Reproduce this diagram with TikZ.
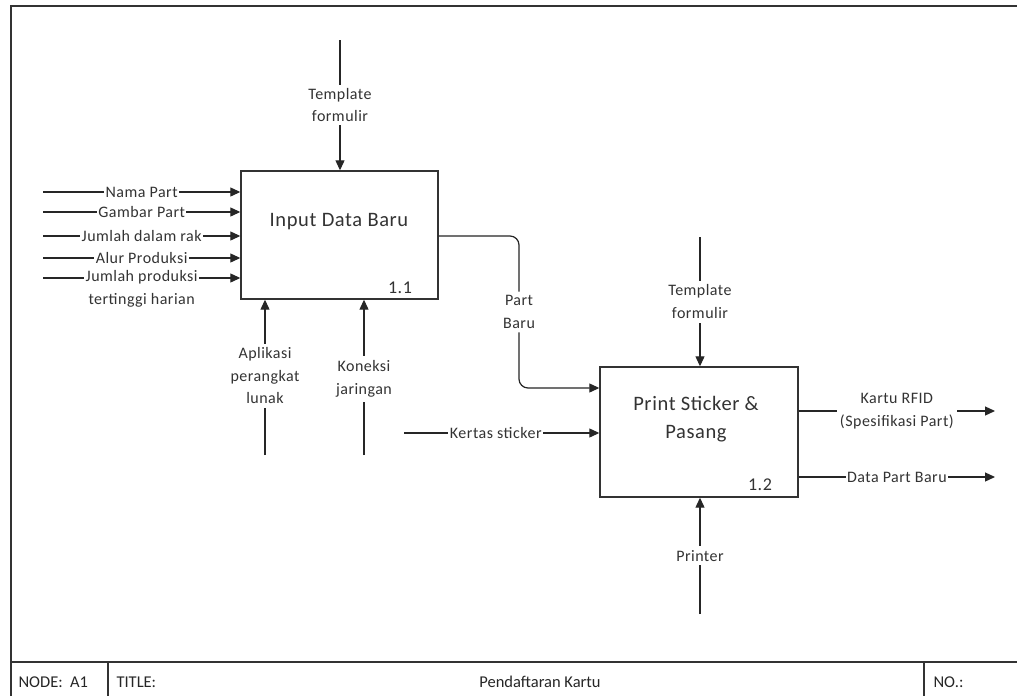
\documentclass[tikz,border=0pt]{standalone}
\usepackage{fontspec}
\setmainfont{Carlito}[LetterSpace=3]
\newfontfamily\footfont{Carlito}
\usetikzlibrary{arrows.meta}

\tikzset{
  x=1pt, y=-1pt,
  flow/.style={line width=1.2pt, draw=black!85},
  arr/.style={flow, -{Triangle[length=10pt,width=9pt]}},
  procbox/.style={draw=black!80, line width=1.4pt, fill=white, minimum width=197pt, minimum height=128pt, inner sep=0pt},
  proctext/.style={font=\fontsize{20.5}{28}\selectfont, text=black!80, align=center},
  procnum/.style={font=\fontsize{18}{20}\selectfont, text=black!80},
  lbl/.style={fill=white, inner sep=1.5pt, font=\fontsize{16}{22.5}\selectfont, text=black!80, align=center},
  frame/.style={line width=1.7pt, draw=black!80},
  foot/.style={font=\footfont\fontsize{16.5}{18}\selectfont, text=black!85, anchor=base west}
}

\begin{document}
\begin{tikzpicture}
\useasboundingbox (0,0) rectangle (1017,696);
\fill[white] (0,0) rectangle (1017,696);

% outer sheet border and title block
\draw[frame] (11,696) -- (11,6) -- (1017,6);
\draw[frame] (11,662) -- (1017,662);
\draw[frame] (108,662) -- (108,696);
\draw[frame] (924,662) -- (924,696);
\node[foot] (fnode) at (15,687) {NODE:\ \ A1};
\node[foot] (ftitle) at (113,687) {TITLE:};
\node[foot, anchor=base] (fname) at (540,687) {Pendaftaran Kartu};
\node[foot] (fno) at (930,687) {NO.:};

% activity boxes
\node[procbox] (box1) at (339.5,235) {};
\node[proctext] (t1) at (339,222) {Input Data Baru};
\node[procnum] (n1) at (400,288) {1.1};

\node[procbox, minimum width=198pt, minimum height=130pt] (box2) at (699,432) {};
\node[proctext, text depth=0pt] (t2) at (696,417) {Print Sticker \&\\Pasang};
\node[procnum] (n2) at (760,485) {1.2};

% inputs of 1.1
\coordinate (i1) at (43,192);
\coordinate (i2) at (43,212);
\coordinate (i3) at (43,236);
\coordinate (i4) at (43,258);
\coordinate (i5) at (43,278);
\draw[arr] (i1) -- node[lbl] {Nama Part} (i1 -| box1.west);
\draw[arr] (i2) -- node[lbl] {Gambar Part} (i2 -| box1.west);
\draw[arr] (i3) -- node[lbl] {Jumlah dalam rak} (i3 -| box1.west);
\draw[arr] (i4) -- node[lbl] {Alur Produksi} (i4 -| box1.west);
\draw[arr] (i5) -- node[lbl, anchor=north, yshift=9.5pt] {Jumlah produksi\\tertinggi harian} (i5 -| box1.west);

% control of 1.1
\coordinate (c1) at (340,40);
\draw[arr] (c1) -- node[lbl, inner sep=3pt] {Template\\formulir} (c1 |- box1.north);

% mechanisms of 1.1
\coordinate (m1) at (265,455);
\coordinate (m2) at (364,455);
\draw[arr] (m1) -- node[lbl, inner sep=4pt, pos=0.51] {Aplikasi\\perangkat\\lunak} (m1 |- box1.south);
\draw[arr] (m2) -- node[lbl, inner sep=5pt, pos=0.49] {Koneksi\\jaringan} (m2 |- box1.south);

% output of 1.1 feeding 1.2
\coordinate (o1) at (box1.east |- 0,236);
\coordinate (p1) at (box2.west |- 0,388);
\draw[arr, rounded corners=9pt] (o1) -- (519,236) -- node[lbl, inner sep=4pt] {Part\\Baru} (519,388) -- (p1);

% other input of 1.2
\coordinate (i6) at (404,433);
\draw[arr] (i6) -- node[lbl, pos=0.47] {Kertas sticker} (i6 -| box2.west);

% control of 1.2
\coordinate (c2) at (700,237);
\draw[arr] (c2) -- node[lbl, inner sep=4pt] {Template\\formulir} (c2 |- box2.north);

% mechanism of 1.2
\coordinate (m3) at (700,614);
\draw[arr] (m3) -- node[lbl, inner sep=4pt] {Printer} (m3 |- box2.south);

% outputs of 1.2
\coordinate (o2) at (995,411);
\coordinate (o3) at (995,477);
\draw[arr] (o2 -| box2.east) -- node[lbl, inner sep=3pt] {Kartu RFID\\(Spesifikasi Part)} (o2);
\draw[arr] (o3 -| box2.east) -- node[lbl] {Data Part Baru} (o3);
\end{tikzpicture}
\end{document}
